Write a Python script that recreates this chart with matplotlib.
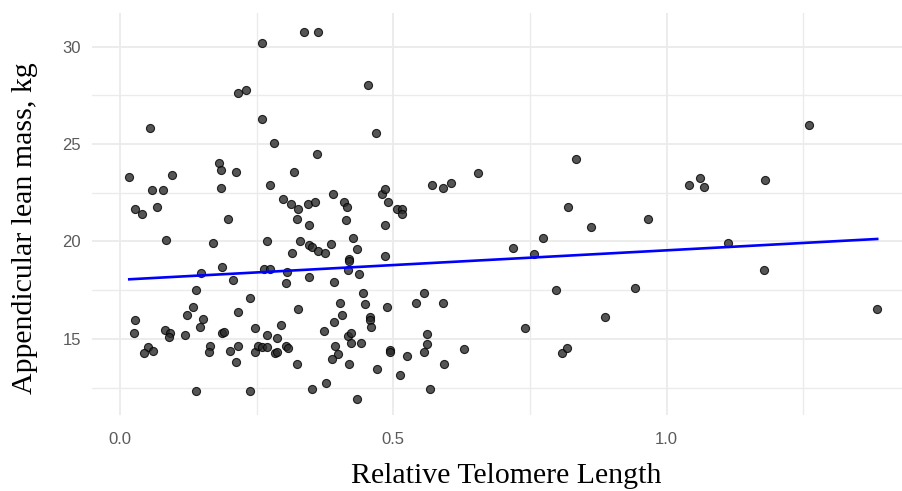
import matplotlib.pyplot as plt
import numpy as np

# relative telomere length (x) and appendicular lean mass in kg (y)
rtl = [0.337, 0.363, 0.260, 0.215, 0.230, 0.054, 0.260, 0.281, 0.360, 0.454,
       0.468, 0.017, 0.096, 0.181, 0.185, 0.213, 0.059, 0.079, 0.184, 0.275,
       0.318, 0.027, 0.040, 0.068, 0.198, 0.298, 0.312, 0.326, 0.343, 0.357,
       0.323, 0.346, 0.085, 0.170, 0.269, 0.329, 0.346, 0.351, 0.363, 0.375,
       0.315, 0.187, 0.148, 0.207, 0.263, 0.275, 0.306, 0.303, 0.346, 0.139,
       0.237, 0.133, 0.122, 0.151, 0.147, 0.216, 0.326, 0.028, 0.025, 0.082,
       0.092, 0.090, 0.119, 0.187, 0.190, 0.247, 0.269, 0.287, 0.295, 0.051,
       0.043, 0.060, 0.165, 0.162, 0.201, 0.216, 0.213, 0.247, 0.252, 0.259,
       0.268, 0.284, 0.287, 0.304, 0.307, 0.323, 0.139, 0.238, 0.352, 0.377,
       0.389, 0.409, 0.415, 0.414, 0.479, 0.485, 0.491, 0.506, 0.516, 0.516,
       0.485, 0.571, 0.590, 0.605, 0.655, 0.386, 0.426, 0.434, 0.419, 0.419,
       0.417, 0.437, 0.485, 0.391, 0.445, 0.403, 0.448, 0.406, 0.457, 0.457,
       0.460, 0.488, 0.391, 0.374, 0.417, 0.423, 0.423, 0.440, 0.394, 0.398,
       0.388, 0.419, 0.493, 0.493, 0.471, 0.513, 0.525, 0.541, 0.556, 0.590,
       0.562, 0.562, 0.556, 0.593, 0.629, 0.567, 0.434, 0.718, 0.757, 0.774,
       0.797, 0.740, 0.808, 0.817, 0.834, 0.820, 0.862, 0.965, 1.041, 1.061,
       1.069, 1.180, 1.260, 1.113, 1.178, 0.942, 0.888, 1.385]

lean_mass = [30.76, 30.76, 30.19, 27.62, 27.78, 25.81, 26.30, 25.05, 24.49, 28.03,
             25.55, 23.32, 23.41, 24.01, 23.67, 23.56, 22.66, 22.66, 22.74, 22.91,
             23.56, 21.67, 21.43, 21.75, 21.17, 22.16, 21.92, 21.67, 21.92, 22.01,
             21.17, 20.85, 20.09, 19.92, 20.01, 20.01, 19.84, 19.73, 19.51, 19.41,
             19.43, 18.69, 18.37, 18.03, 18.61, 18.61, 18.45, 17.86, 18.19, 17.53,
             17.12, 16.63, 16.22, 16.04, 15.63, 16.37, 16.54, 15.96, 15.31, 15.46,
             15.32, 15.12, 15.22, 15.29, 15.37, 15.55, 15.22, 15.05, 15.72, 14.57,
             14.30, 14.38, 14.66, 14.32, 14.38, 14.64, 13.82, 14.32, 14.64, 14.57,
             14.57, 14.27, 14.35, 14.66, 14.54, 13.73, 12.33, 12.33, 12.42, 12.73,
             22.42, 22.01, 21.75, 21.09, 22.42, 22.68, 22.01, 21.67, 21.67, 21.43,
             20.85, 22.91, 22.74, 23.00, 23.50, 19.86, 20.18, 19.60, 19.12, 19.00,
             18.52, 18.35, 19.26, 17.94, 17.36, 16.86, 16.79, 16.22, 16.14, 15.97,
             15.63, 16.63, 15.87, 15.39, 15.15, 15.31, 14.81, 14.81, 14.66, 14.23,
             13.97, 13.73, 14.44, 14.32, 13.48, 13.14, 14.14, 16.86, 17.36, 16.86,
             15.24, 14.73, 14.32, 13.73, 14.47, 12.42, 11.91, 19.68, 19.36, 20.18,
             17.53, 15.55, 14.30, 14.55, 24.23, 21.75, 20.76, 21.17, 22.91, 23.24,
             22.81, 23.15, 25.96, 19.94, 18.52, 17.62, 16.11, 16.54]

# linear fit as drawn in the chart
fit_intercept = 18.035
fit_slope = 1.512

x_ticks = [0.0, 0.5, 1.0]
x_tick_labels = ['0.0', '0.5', '1.0']
y_ticks = [15, 20, 25, 30]

fig = plt.figure(figsize=(9.03, 4.91), dpi=100)
ax = fig.add_axes([92 / 903, 76 / 491, 811 / 903, 402 / 491])

ax.set_xlim(-0.0512, 1.4322)
ax.set_ylim(11.10, 31.72)

# ggplot theme_minimal style grid
ax.set_xticks(x_ticks)
ax.set_xticklabels(x_tick_labels)
ax.set_yticks(y_ticks)
ax.set_xticks([0.25, 0.75, 1.25], minor=True)
ax.set_yticks([12.5, 17.5, 22.5, 27.5], minor=True)
ax.grid(which='major', color='#ebebeb', linewidth=1.3)
ax.grid(which='minor', color='#ebebeb', linewidth=1.0)
ax.set_axisbelow(True)
for s in ax.spines.values():
    s.set_visible(False)
ax.tick_params(which='both', length=0)
ax.tick_params(axis='x', pad=12, labelsize=12, labelcolor='#5a5a5a')
ax.tick_params(axis='y', pad=8, labelsize=12, labelcolor='#5a5a5a')
for lbl in ax.get_xticklabels() + ax.get_yticklabels():
    lbl.set_family('Liberation Sans')

ax.scatter(rtl, lean_mass, s=34, facecolor='#2b2b2b', edgecolor='black',
           linewidth=0.8, alpha=0.8, zorder=3)

xs = np.array([min(rtl), max(rtl)])
ax.plot(xs, fit_intercept + fit_slope * xs, color='#0000ff', linewidth=1.9, zorder=4)

fig.text(506 / 903, 1 - 483 / 491, 'Relative Telomere Length', ha='center', va='baseline',
         family='Liberation Serif', fontsize=21.5)
fig.text(25 / 903, 1 - 228.5 / 491, 'Appendicular lean mass, kg', ha='center', va='center',
         rotation=90, family='Liberation Serif', fontsize=21.5)

fig.savefig('out.png', dpi=100)
